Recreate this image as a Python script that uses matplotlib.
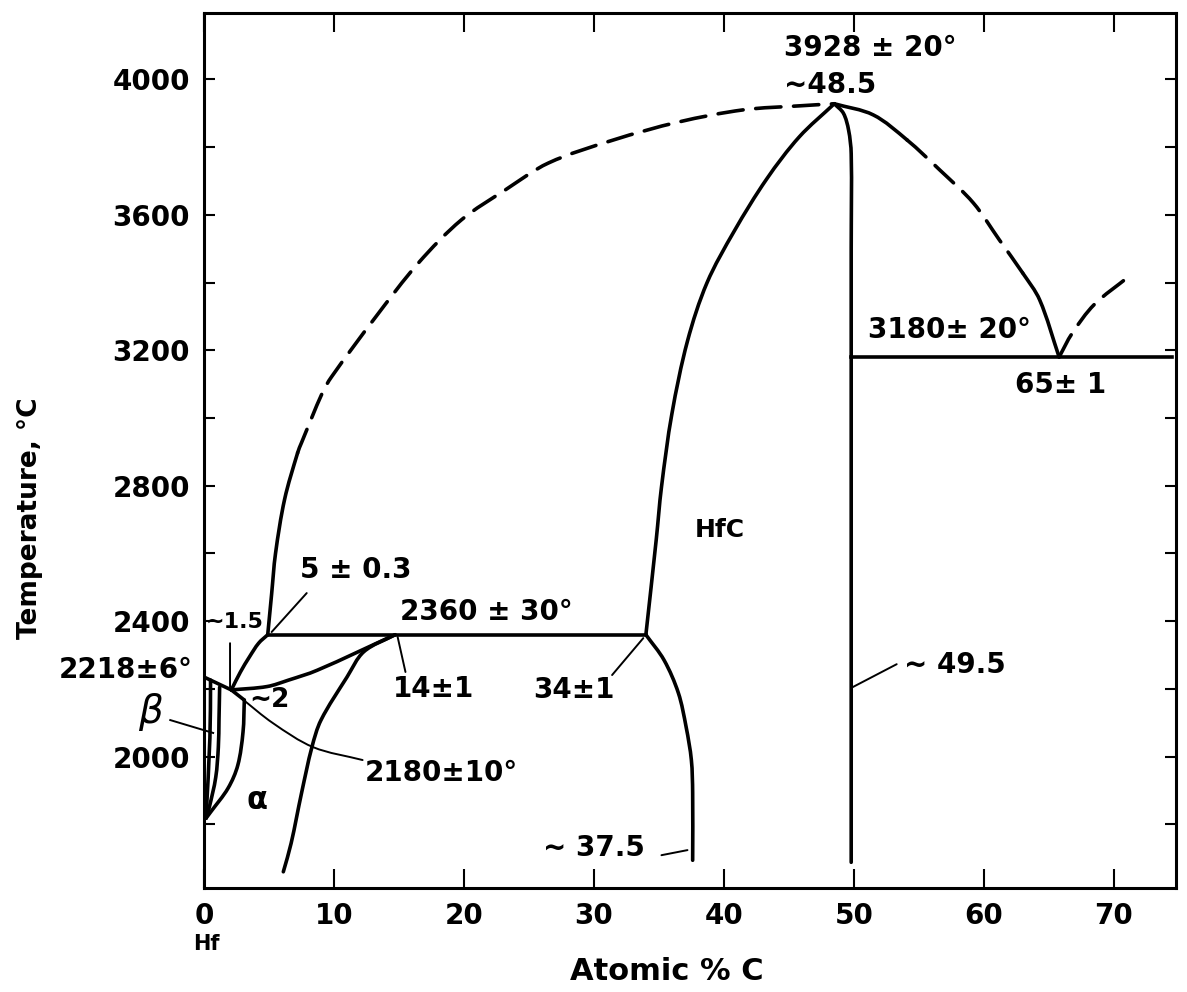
import matplotlib
matplotlib.use("Agg")
import matplotlib.pyplot as plt
import numpy as np
from matplotlib.path import Path
from matplotlib.patches import PathPatch
from matplotlib.ticker import FixedLocator, FuncFormatter

plt.rcParams['font.family'] = ['DejaVu Sans']

# ---------------- data (atomic % C, temperature °C) ----------------
# left liquidus (solid near 5 %, dashed above)
liq_left_x = [4.9, 5.2, 5.5, 6.2, 7.2, 7.5, 9.1, 9.8, 13.2, 16.5, 19.8, 23.2, 26.5, 31.5, 36.5, 41.5, 45.9, 48.5]
liq_left_T = [2360, 2480, 2600, 2760, 2897, 2927, 3074, 3121, 3298, 3458, 3585, 3674, 3753, 3821, 3874, 3910, 3922, 3928]
LIQ_LEFT_SOLID_SEGS = 4          # first 4 segments solid, rest dashed

# HfC phase boundaries
hfc_left_x = [34, 34.8, 35.2, 36.0, 37.2, 38.7, 40.8, 43.3, 45.8, 48.5]
hfc_left_T = [2360, 2642, 2796, 3012, 3227, 3399, 3552, 3706, 3830, 3928]
hfc_right_x = [48.5, 49.2, 49.6, 49.8, 49.8, 49.8]
hfc_right_T = [3928, 3900, 3850, 3780, 3500, 1688]
hfc_low_x = [34, 35.4, 36.5, 37.1, 37.5, 37.6, 37.6]
hfc_low_T = [2360, 2285, 2188, 2087, 1990, 1893, 1694]

# right liquidus (HfC + L -> C side)
liq_right_x = [48.5, 51.5, 54.1, 56.6, 59.2, 61.2, 63.0, 64.3, 65.8]
liq_right_T = [3928, 3895, 3821, 3733, 3635, 3526, 3428, 3349, 3180]
LIQ_RIGHT_DASH = (2, 6)          # segments [2:6] dashed
liq_c_x = [65.8, 66.8, 68.5, 71.1]
liq_c_T = [3180, 3250, 3335, 3416]

# isotherms
peri_x = [4.9, 34.0]
peri_T = [2360, 2360]
eut_x = [49.8, 74.5]
eut_T = [3180, 3180]

# Hf-rich corner
hf_liq_x = [0.0, 2.1]
hf_liq_T = [2235, 2197]
a_liq_x = [2.1, 2.8, 3.5, 4.2, 4.9]
a_liq_T = [2197, 2250, 2295, 2335, 2360]
a_sol_x = [2.1, 4.85, 6.5, 8.7, 14.7]
a_sol_T = [2197, 2207, 2226, 2255, 2360]
a_solv_x = [14.7, 12.3, 11.0, 9.0, 8.3, 7.5, 6.7, 6.1]
a_solv_T = [2360, 2310, 2235, 2108, 2028, 1892, 1744, 1660]
a_bnd_x = [3.1, 3.0, 2.6, 1.85, 0.5, 0.15]
a_bnd_T = [2167, 2073, 1975, 1907, 1836, 1818]
b_bnd_x = [1.2, 1.15, 1.1, 0.9, 0.4, 0.15]
b_bnd_T = [2205, 2108, 2028, 1939, 1850, 1818]
b_axis_x = [0.5, 0.45, 0.15]
b_axis_T = [2226, 2055, 1818]
j_seg_x = [2.1, 3.1]
j_seg_T = [2197, 2167]

# leader lines
p2180_x = [2.85, 5.3, 8.4, 12.2]
p2180_T = [2173, 2099, 2028, 1990]
p15_x = [2.0, 2.0]
p15_T = [2335, 2205]
p5_x = [7.9, 5.2]
p5_T = [2483, 2368]
p14_x = [14.9, 15.5]
p14_T = [2353, 2250]
p34_x = [33.8, 31.4]
p34_T = [2350, 2241]
p375_x = [35.2, 37.2]
p375_T = [1709, 1724]
p495_x = [49.8, 53.3]
p495_T = [2203, 2273]
pbeta_x = [-2.6, 0.7]
pbeta_T = [2108, 2070]

# labels: text, x, T, ha, size
labels = [
    ("3928 ± 20°", 44.6, 4093, 'left', 20),
    ("~48.5", 44.6, 3984, 'left', 20),
    ("3180± 20°", 51.1, 3260, 'left', 20),
    ("65± 1", 62.4, 3098, 'left', 20),
    ("HfC", 39.7, 2670, 'center', 18),
    ("5 ± 0.3", 7.4, 2551, 'left', 20),
    ("2360 ± 30°", 15.1, 2427, 'left', 20),
    ("~1.5", 0.1, 2397, 'left', 16),
    ("2218±6°", -0.9, 2256, 'right', 20),
    ("~2", 3.5, 2168, 'left', 19),
    ("14±1", 14.5, 2200, 'left', 20),
    ("34±1", 25.3, 2197, 'left', 20),
    ("2180±10°", 12.4, 1951, 'left', 20),
    ("~ 37.5", 26.1, 1730, 'left', 20),
    ("~ 49.5", 53.9, 2270, 'left', 20),
]
beta_label = ("β", -4.15, 2132)
alpha_label = ("α", 4.1, 1870)

x_ticks = [0, 10, 20, 30, 40, 50, 60, 70]
y_ticks = [1800, 2000, 2200, 2400, 2600, 2800, 3000, 3200, 3400, 3600, 3800, 4000]
y_labelled = [2000, 2400, 2800, 3200, 3600, 4000]

XLIM = (0, 74.8)
YLIM = (1612, 4196)
AX_RECT = [0.1719, 0.1048, 0.8189, 0.8821]
FIG_W, FIG_H, DPI = 11.87, 9.92, 100

# pixel scale of the axes (used only to render smooth curves)
SX = AX_RECT[2] * FIG_W * DPI / (XLIM[1] - XLIM[0])
SY = AX_RECT[3] * FIG_H * DPI / (YLIM[1] - YLIM[0])


# ---------------- helpers ----------------
def bezier_segments(xs, ys):
    """Chord-length cubic Hermite rendering of a curve through the given points."""
    p = np.column_stack([xs, ys]).astype(float)
    q = p * np.array([SX, SY])              # screen-like units
    n = len(p)
    d = np.hypot(*np.diff(q, axis=0).T)
    tang = np.zeros_like(p)
    for i in range(n):
        if i == 0:
            tang[i] = (p[1] - p[0]) / d[0]
        elif i == n - 1:
            tang[i] = (p[-1] - p[-2]) / d[-1]
        else:
            tang[i] = (p[i + 1] - p[i - 1]) / (d[i - 1] + d[i])
    segs = []
    for i in range(n - 1):
        c1 = p[i] + tang[i] * d[i] / 3.0
        c2 = p[i + 1] - tang[i + 1] * d[i] / 3.0
        segs.append((p[i], c1, c2, p[i + 1]))
    return segs


def draw_segs(ax, segs, **kw):
    verts, codes = [segs[0][0]], [Path.MOVETO]
    for _, c1, c2, p2 in segs:
        verts += [c1, c2, p2]
        codes += [Path.CURVE4] * 3
    ax.add_patch(PathPatch(Path(verts, codes), fill=False, joinstyle='round',
                           capstyle='round', **kw))


def smooth(ax, xs, ys, **kw):
    draw_segs(ax, bezier_segments(xs, ys), **kw)


# ---------------- figure ----------------
fig = plt.figure(figsize=(FIG_W, FIG_H), dpi=DPI)
ax = fig.add_axes(AX_RECT)
ax.set_xlim(*XLIM)
ax.set_ylim(*YLIM)

LW = 2.6
THIN = 1.4
K = 'black'
DASH = (0, (7, 3.5))

segs = bezier_segments(liq_left_x, liq_left_T)
draw_segs(ax, segs[:LIQ_LEFT_SOLID_SEGS], edgecolor=K, lw=LW)
draw_segs(ax, segs[LIQ_LEFT_SOLID_SEGS:], edgecolor=K, lw=LW, linestyle=DASH)

smooth(ax, hfc_left_x, hfc_left_T, edgecolor=K, lw=LW)
smooth(ax, hfc_right_x, hfc_right_T, edgecolor=K, lw=LW)
smooth(ax, hfc_low_x, hfc_low_T, edgecolor=K, lw=LW)

segs = bezier_segments(liq_right_x, liq_right_T)
a, b = LIQ_RIGHT_DASH
draw_segs(ax, segs[:a], edgecolor=K, lw=LW)
draw_segs(ax, segs[a:b], edgecolor=K, lw=LW, linestyle=DASH)
draw_segs(ax, segs[b:], edgecolor=K, lw=LW)
smooth(ax, liq_c_x, liq_c_T, edgecolor=K, lw=LW, linestyle=DASH)

ax.plot(peri_x, peri_T, color=K, lw=LW)
ax.plot(eut_x, eut_T, color=K, lw=LW)

for xs, ts in [(hf_liq_x, hf_liq_T), (a_liq_x, a_liq_T), (a_sol_x, a_sol_T),
               (a_solv_x, a_solv_T), (a_bnd_x, a_bnd_T), (b_bnd_x, b_bnd_T),
               (b_axis_x, b_axis_T), (j_seg_x, j_seg_T)]:
    smooth(ax, xs, ts, edgecolor=K, lw=LW)

for xs, ts in [(p2180_x, p2180_T), (p15_x, p15_T), (p5_x, p5_T), (p14_x, p14_T),
               (p34_x, p34_T), (p375_x, p375_T), (p495_x, p495_T)]:
    smooth(ax, xs, ts, edgecolor=K, lw=THIN)
ax.plot(pbeta_x, pbeta_T, color=K, lw=THIN, clip_on=False)

for txt, x, t, ha, size in labels:
    ax.text(x, t, txt, ha=ha, va='center', fontsize=size, fontweight='bold', clip_on=False)
ax.text(beta_label[1], beta_label[2], beta_label[0], ha='center', va='center',
        fontsize=28, style='italic', clip_on=False)
ax.text(alpha_label[1], alpha_label[2], alpha_label[0], ha='center', va='center',
        fontsize=22, fontweight='bold')

# axes styling
for s in ax.spines.values():
    s.set_linewidth(2.2)
ax.xaxis.set_major_locator(FixedLocator(x_ticks))
ax.yaxis.set_major_locator(FixedLocator(y_ticks))
ax.yaxis.set_major_formatter(FuncFormatter(lambda v, p: f"{int(v)}" if int(v) in y_labelled else ""))
ax.tick_params(axis='x', direction='in', length=14, width=1.5, top=True, bottom=True,
               labelsize=20, pad=10)
ax.tick_params(axis='y', direction='in', length=8, width=1.5, left=True, right=True,
               labelsize=20, pad=10)
for lab in ax.get_xticklabels() + ax.get_yticklabels():
    lab.set_fontweight('bold')

fig.text(206 / 1187, 1 - 944 / 992, "Hf", ha='center', va='center', fontsize=15, fontweight='bold')
fig.text(667 / 1187, 1 - 971 / 992, "Atomic % C", ha='center', va='center', fontsize=22, fontweight='bold')
fig.text(30 / 1187, 1 - 518 / 992, "Temperature, °C", ha='center', va='center', rotation=90,
         fontsize=19, fontweight='bold')

fig.savefig("out.png", dpi=DPI, facecolor='white')
